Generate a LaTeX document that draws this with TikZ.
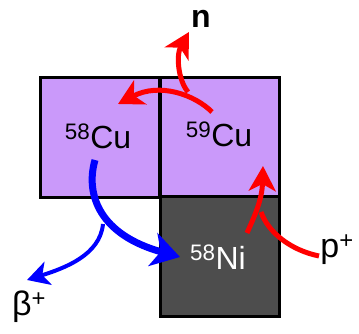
\documentclass[tikz,border=0pt]{standalone}
\usepackage{fontspec}
\setmainfont{Liberation Sans}
\usetikzlibrary{arrows.meta}
\definecolor{lilac}{RGB}{202,153,250}
\definecolor{darkbox}{RGB}{77,77,77}
\definecolor{ared}{RGB}{255,0,0}
\definecolor{ablue}{RGB}{0,0,255}
\tikzset{
  cell/.style={draw=black,line width=3pt,minimum width=119pt,minimum height=120pt,inner sep=0pt,outer sep=0pt},
  iso/.style={font=\fontsize{32}{32}\selectfont},
  lbl/.style={font=\fontsize{34}{34}\selectfont,inner sep=0pt},
  redarrow/.style={draw=ared,line width=5pt,-{Stealth[length=25pt,width=27pt,inset=7pt]}},
  redline/.style={draw=ared,line width=5pt},
  bluemain/.style={draw=ablue,line width=7pt,-{Stealth[length=28pt,width=34pt,inset=8pt]}},
  bluethin/.style={draw=ablue,line width=4pt,-{Stealth[length=22pt,width=24pt,inset=6pt]}},
}
\begin{document}
\begin{tikzpicture}[x=1pt,y=-1pt]
\useasboundingbox (0,0) rectangle (359,333);
\node[cell,fill=lilac] (cu58) at (99.5,137) {};
\node[cell,fill=lilac] (cu59) at (219.5,137) {};
\node[cell,fill=darkbox] (ni58) at (219.5,256.5) {};
\node[iso] (t58cu) at (98,136) {\textsuperscript{58}Cu};
\node[iso] (t59cu) at (219,134) {\textsuperscript{59}Cu};
\node[iso,text=white] (t58ni) at (218,257) {\textsuperscript{58}Ni};
\node[lbl,font=\fontsize{32}{32}\bfseries\selectfont] (n) at (201,19) {n};
\node[lbl] (pp) at (337,250) {p\textsuperscript{+}};
\node[lbl] (bp) at (29,307) {β\textsuperscript{+}};
% coordinates
\coordinate (rs) at (212,112);
\coordinate (rb) at (188,92);
\coordinate (rtip) at (118,104);
\coordinate (ntip) at (189,32);
\coordinate (ptail) at (247,233);
\coordinate (ptip) at (263,166);
\coordinate (pjoin) at (261,212);
\coordinate (pstart) at (319,256);
\coordinate (bs) at (95,160);
\coordinate (btip) at (180,257);
\coordinate (bb) at (103,224);
\coordinate (btip2) at (27,280);
% red arrows
\draw[redarrow] (rs) .. controls (195,95) and (160,82) .. (rtip);
\draw[redarrow] (rb) .. controls (178,80) and (176,55) .. (ntip);
\draw[redarrow] (ptail) .. controls (255,215) and (262,200) .. (ptip);
\draw[redline] (pstart) .. controls (290,250) and (268,232) .. (pjoin);
% blue arrows
\draw[bluemain] (bs) .. controls (85,195) and (100,235) .. (btip);
\draw[bluethin] (bb) .. controls (100,255) and (65,268) .. (btip2);
\end{tikzpicture}
\end{document}
